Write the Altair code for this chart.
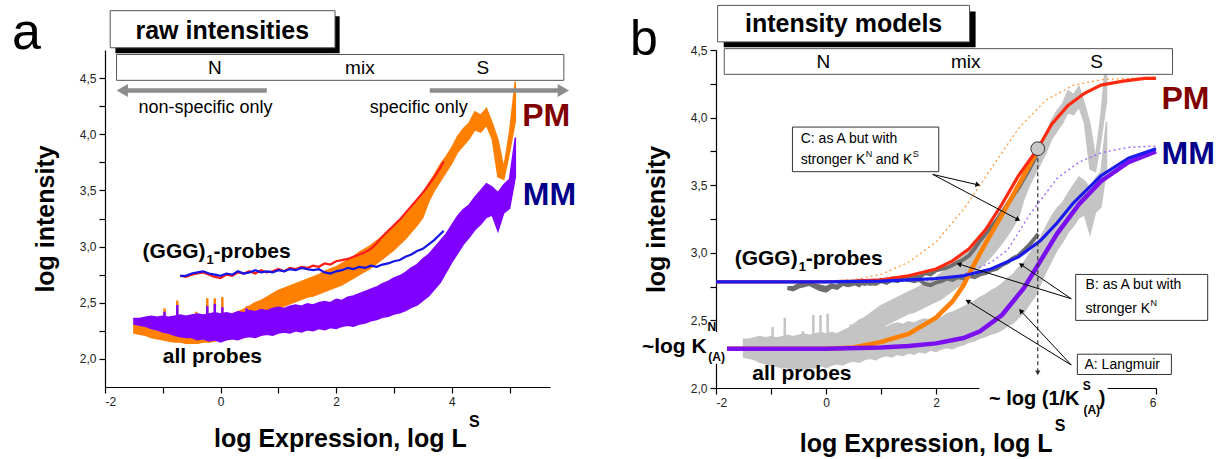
import math
import altair as alt
import pandas as pd

FONT = "Liberation Sans"

# ---------------- data ----------------
# all probes (panel a: PM orange / MM purple; panel b: light grey)
band_x = [-1.5, -1.4, -1.3, -1.2, -1.1, -1.0, -0.9, -0.8, -0.7, -0.6, -0.5, -0.4, -0.3, -0.2, -0.1,
          0.0, 0.1, 0.2, 0.3, 0.4, 0.5, 0.6, 0.7, 0.8, 0.9, 1.0, 1.1, 1.2, 1.3, 1.4, 1.5, 1.6, 1.7,
          1.8, 1.9, 2.0, 2.1, 2.2, 2.3, 2.4, 2.5, 2.6, 2.7, 2.8, 2.9, 3.0, 3.1, 3.2, 3.3, 3.4, 3.5,
          3.6, 3.7, 3.8, 3.9, 4.0, 4.1, 4.2, 4.3, 4.4, 4.5, 4.6, 4.7, 4.8, 4.9, 5.0, 5.1]
mm_lo = [2.31, 2.30, 2.29, 2.27, 2.26, 2.24, 2.23, 2.21, 2.20, 2.19, 2.19, 2.17, 2.18, 2.16, 2.17,
         2.15, 2.17, 2.18, 2.17, 2.19, 2.20, 2.19, 2.21, 2.22, 2.21, 2.23, 2.24, 2.23, 2.25, 2.24,
         2.26, 2.25, 2.27, 2.26, 2.28, 2.27, 2.29, 2.30, 2.29, 2.31, 2.32, 2.34, 2.35, 2.37, 2.38,
         2.40, 2.41, 2.43, 2.46, 2.48, 2.52, 2.56, 2.62, 2.68, 2.77, 2.86, 2.94, 3.02, 3.08, 3.15,
         3.20, 3.26, 3.28, 3.14, 3.30, 3.34, 3.62]
mm_hi = [2.36, 2.36, 2.37, 2.38, 2.37, 2.38, 2.37, 2.38, 2.39, 2.38, 2.39, 2.40, 2.39, 2.40, 2.41,
         2.40, 2.41, 2.40, 2.42, 2.41, 2.43, 2.42, 2.44, 2.43, 2.45, 2.46, 2.45, 2.47, 2.48, 2.47,
         2.49, 2.48, 2.50, 2.51, 2.50, 2.53, 2.52, 2.55, 2.56, 2.58, 2.60, 2.62, 2.64, 2.67, 2.69,
         2.72, 2.74, 2.77, 2.81, 2.84, 2.89, 2.93, 2.99, 3.05, 3.11, 3.19, 3.27, 3.33, 3.37, 3.44,
         3.50, 3.56, 3.53, 3.48, 3.55, 3.60, 3.97]
pm_lo = [2.23, 2.22, 2.21, 2.19, 2.18, 2.17, 2.16, 2.15, 2.15, 2.14, 2.14, 2.14, 2.15, 2.15, 2.16,
         2.18, 2.20, 2.22, 2.25, 2.27, 2.30, 2.33, 2.36, 2.39, 2.42, 2.45, 2.47, 2.49, 2.51, 2.53,
         2.55, 2.56, 2.58, 2.60, 2.62, 2.64, 2.66, 2.69, 2.72, 2.75, 2.78, 2.81, 2.85, 2.89, 2.93,
         2.97, 3.02, 3.07, 3.13, 3.19, 3.26, 3.40, 3.50, 3.58, 3.66, 3.74, 3.84, 3.90, 3.96, 4.04,
         4.02, 4.08, 3.96, 3.62, 3.60, 3.84, 4.12]
pm_hi = [2.30, 2.29, 2.29, 2.28, 2.28, 2.28, 2.27, 2.28, 2.28, 2.29, 2.30, 2.31, 2.32, 2.34, 2.35,
         2.37, 2.38, 2.40, 2.42, 2.44, 2.47, 2.50, 2.52, 2.55, 2.58, 2.61, 2.63, 2.65, 2.67, 2.69,
         2.71, 2.73, 2.75, 2.78, 2.80, 2.82, 2.85, 2.88, 2.91, 2.95, 2.98, 3.01, 3.05, 3.09, 3.13,
         3.18, 3.22, 3.28, 3.34, 3.41, 3.47, 3.56, 3.64, 3.73, 3.80, 3.88, 3.98, 4.05, 4.10, 4.20,
         4.17, 4.23, 4.10, 3.95, 3.70, 4.02, 4.47]
spike_x = [-1.25, -0.97, -0.75, -0.42, -0.23, -0.10, 0.03, 0.45]
spike_pm = [2.38, 2.45, 2.52, 2.42, 2.54, 2.54, 2.55, 2.47]
spike_mm = [2.37, 2.42, 2.48, 2.40, 2.47, 2.49, 2.46, 2.45]

# (GGG)1-probes: PM (red) and MM (blue)
ggg_x = [-0.7, -0.6, -0.5, -0.4, -0.3, -0.2, -0.1, 0.0, 0.1, 0.2, 0.3, 0.4, 0.5, 0.6, 0.7, 0.8,
         0.9, 1.0, 1.1, 1.2, 1.3, 1.4, 1.5, 1.6, 1.7, 1.8, 1.9, 2.0, 2.1, 2.2, 2.3, 2.4, 2.5, 2.6,
         2.7, 2.8, 2.9, 3.0, 3.1, 3.2, 3.3, 3.4, 3.5, 3.6, 3.7, 3.8, 3.86]
ggg_pm = [2.74, 2.73, 2.75, 2.76, 2.77, 2.75, 2.73, 2.72, 2.75, 2.74, 2.77, 2.76, 2.78, 2.76,
          2.79, 2.77, 2.78, 2.80, 2.78, 2.81, 2.80, 2.82, 2.81, 2.83, 2.82, 2.85, 2.84, 2.87,
          2.88, 2.89, 2.91, 2.93, 2.95, 2.98, 3.03, 3.09, 3.14, 3.19, 3.24, 3.30, 3.36, 3.42,
          3.48, 3.55, 3.62, 3.70, 3.76]
ggg_mm = [2.74, 2.74, 2.76, 2.77, 2.78, 2.76, 2.75, 2.74, 2.76, 2.75, 2.78, 2.76, 2.77, 2.79,
          2.77, 2.78, 2.77, 2.79, 2.78, 2.80, 2.79, 2.81, 2.80, 2.79, 2.80, 2.77, 2.76, 2.78,
          2.79, 2.81, 2.80, 2.82, 2.81, 2.83, 2.82, 2.84, 2.85, 2.87, 2.88, 2.91, 2.93, 2.96,
          2.98, 3.02, 3.06, 3.11, 3.14]

# panel b model curves
b_red_x = [-2.0, -1.0, 0.0, 0.5, 1.0, 1.5, 2.0, 2.3, 2.6, 2.9, 3.2, 3.5, 3.85, 4.1, 4.4, 4.7, 5.0, 5.4, 5.8, 6.0]
b_red_y = [2.785, 2.785, 2.786, 2.79, 2.80, 2.83, 2.88, 2.94, 3.03, 3.17, 3.36, 3.57, 3.77, 3.95, 4.09, 4.18, 4.24, 4.27, 4.29, 4.29]
b_orange_x = [-1.8, -1.0, 0.0, 0.5, 1.0, 1.5, 2.0, 2.3, 2.5, 2.7, 2.9, 3.2, 3.5, 3.85]
b_orange_y = [2.29, 2.29, 2.29, 2.30, 2.34, 2.40, 2.52, 2.64, 2.76, 2.92, 3.07, 3.28, 3.50, 3.76]
b_purple_x = [-1.8, -1.0, 0.0, 1.0, 1.5, 2.0, 2.5, 2.8, 3.2, 3.6, 3.9, 4.2, 4.6, 5.0, 5.5, 6.0]
b_purple_y = [2.29, 2.29, 2.29, 2.30, 2.31, 2.33, 2.37, 2.42, 2.54, 2.74, 2.94, 3.14, 3.36, 3.53, 3.67, 3.75]
b_blue_x = [-2.0, -1.0, 0.0, 1.0, 1.5, 2.0, 2.5, 3.0, 3.5, 3.9, 4.2, 4.5, 5.0, 5.5, 6.0]
b_blue_y = [2.785, 2.785, 2.785, 2.79, 2.80, 2.81, 2.83, 2.88, 2.97, 3.09, 3.22, 3.37, 3.57, 3.70, 3.77]
b_cpm_x = [-2.0, -1.0, 0.0, 0.5, 1.0, 1.5, 2.0, 2.5, 3.0, 3.5, 4.0, 4.5, 5.0, 5.5, 6.0]
b_cpm_y = [2.785, 2.785, 2.79, 2.80, 2.84, 2.93, 3.08, 3.32, 3.62, 3.92, 4.13, 4.24, 4.28, 4.29, 4.30]
b_cmm_x = [1.0, 1.5, 2.0, 2.5, 3.0, 3.3, 3.7, 4.2, 4.6, 5.0, 5.5, 6.0]
b_cmm_y = [2.785, 2.79, 2.80, 2.84, 2.93, 3.02, 3.28, 3.55, 3.67, 3.74, 3.78, 3.79]

x_ticks = [-2, -1, 0, 1, 2, 3, 4, 5]
x_ticks_b = [-2, -1, 0, 1, 2, 3, 4, 5, 6]
y_ticks = [2.0, 2.25, 2.5, 2.75, 3.0, 3.25, 3.5, 3.75, 4.0, 4.25, 4.5]

# ---------------- scales / axes ----------------
XA = alt.Scale(domain=[-2, 5.7], nice=False, zero=False)
YA = alt.Scale(domain=[1.75, 4.75], nice=False, zero=False)
XB = alt.Scale(domain=[-2, 6], nice=False, zero=False)
YB = alt.Scale(domain=[2.0, 4.5], nice=False, zero=False)
SXA, SYA = 445 / 7.7, 337 / 3.0
SXB, SYB = 440 / 8.0, 338 / 2.5

def xaxis(vals, expr):
    return alt.Axis(values=vals, title=None, grid=False, tickSize=6, tickColor="black",
                    domainColor="black", labelFont=FONT, labelFontSize=12, labelColor="#222",
                    labelPadding=3, labelExpr=expr)

def yaxis(pad):
    return alt.Axis(values=y_ticks, grid=False, tickSize=6, tickColor="black",
                    domainColor="black", labelFont=FONT, labelFontSize=12, labelColor="#222",
                    labelPadding=3,
                    labelExpr="(datum.value * 2) % 1 == 0 ? replace(format(datum.value, '.1f'), '.', ',') : ''",
                    title="log intensity", titleFont=FONT, titleFontSize=25, titleFontWeight="bold",
                    titleColor="black", titlePadding=pad)

AXA = xaxis(x_ticks, "datum.value % 2 == 0 ? '' + datum.value : ''")
AXB = xaxis(x_ticks_b, "datum.value % 2 == 0 && datum.value != 4 ? '' + datum.value : ''")
AYA, AYB = yaxis(21), yaxis(21)

class P:
    def __init__(self, xs, ys, ax, ay, sx, sy):
        self.xs, self.ys, self.ax, self.ay, self.sx, self.sy = xs, ys, ax, ay, sx, sy

    def X(self, f="x"):
        return alt.X(f + ":Q", scale=self.xs, axis=self.ax)

    def Y(self, f="y"):
        return alt.Y(f + ":Q", scale=self.ys, axis=self.ay)

    def line(self, xs, ys, color, width, dash=None):
        kw = dict(color=color, strokeWidth=width, clip=False)
        if dash:
            kw["strokeDash"] = dash
        return alt.Chart(pd.DataFrame({"x": xs, "y": ys})).mark_line(**kw).encode(x=self.X(), y=self.Y())

    def band(self, xs, lo, hi, color):
        return alt.Chart(pd.DataFrame({"x": xs, "y": lo, "y2": hi})).mark_area(
            color=color, stroke=color, strokeWidth=1.5).encode(x=self.X(), y=self.Y(), y2="y2:Q")

    def spikes(self, xs, lo, hi, color):
        return alt.Chart(pd.DataFrame({"x": xs, "y": [lo] * len(xs), "y2": hi})).mark_rule(
            color=color, strokeWidth=2.5).encode(x=self.X(), y=self.Y(), y2="y2:Q")

    def rect(self, x1, x2, y1, y2, fill, stroke=None, sw=1):
        kw = dict(fill=fill, clip=False)
        if stroke:
            kw.update(stroke=stroke, strokeWidth=sw)
        else:
            kw.update(strokeWidth=0)
        return alt.Chart(pd.DataFrame({"x": [x1], "x2": [x2], "y": [y1], "y2": [y2]})).mark_rect(**kw).encode(
            x=self.X(), x2="x2:Q", y=self.Y(), y2="y2:Q")

    def text(self, x, y, t, size=14, bold=False, color="black", align="left", baseline="middle", dx=0, dy=0):
        return alt.Chart(pd.DataFrame({"x": [x], "y": [y], "t": [t]})).mark_text(
            font=FONT, fontSize=size, fontWeight="bold" if bold else "normal", color=color,
            align=align, baseline=baseline, dx=dx, dy=dy).encode(x=self.X(), y=self.Y(), text="t:N")

    def arrow(self, x1, y1, x2, y2, color="black", width=1, head=30, dash=None):
        dxp = (x2 - x1) * self.sx
        dyp = -(y2 - y1) * self.sy
        L = math.hypot(dxp, dyp)
        ux, uy = dxp / L, dyp / L
        back = math.sqrt(head) * 0.45
        hx = x2 - back * ux / self.sx
        hy = y2 + back * uy / self.sy
        ang = math.degrees(math.atan2(dxp, -dyp)) % 360
        kw = dict(color=color, strokeWidth=width)
        if dash:
            kw["strokeDash"] = dash
        shaft = alt.Chart(pd.DataFrame({"x": [x1], "y": [y1], "x2": [hx], "y2": [hy]})).mark_rule(**kw).encode(
            x=self.X(), y=self.Y(), x2="x2:Q", y2="y2:Q")
        tip = alt.Chart(pd.DataFrame({"x": [hx], "y": [hy], "a": [ang]})).mark_point(
            shape="triangle", filled=True, size=head, color=color, opacity=1).encode(
            x=self.X(), y=self.Y(), angle=alt.Angle("a:Q", scale=None))
        return [shaft, tip]


A = P(XA, YA, AXA, AYA, SXA, SYA)
B = P(XB, YB, AXB, AYB, SXB, SYB)

ORANGE, PURPLE, RED, BLUE = "#ff8000", "#7f00ff", "#ff1a1a", "#1414e6"
LGREY, DGREY = "#c4c4c4", "#6e6e6e"
PMC, MMC = "#800000", "#00008b"

# ---------------- panel a ----------------
la = []
la.append(A.band(band_x, pm_lo, pm_hi, ORANGE))
la.append(A.spikes(spike_x, 2.3, spike_pm, ORANGE))
la.append(A.band(band_x, mm_lo, mm_hi, PURPLE))
la.append(A.spikes(spike_x, 2.3, spike_mm, PURPLE))
la.append(A.line(ggg_x, ggg_pm, RED, 2.2))
la.append(A.line(ggg_x, ggg_mm, BLUE, 2.2))
# header boxes
la.append(A.rect(-1.82, 2.06, 5.05, 4.72, "black"))
la.append(A.rect(-1.91, 1.98, 5.10, 4.77, "white", "#555", 1))
la.append(A.text(0.03, 4.92, "raw intensities", 25, True, align="center"))
la.append(A.rect(-1.80, 5.94, 4.71, 4.48, "white", "#555", 1))
la.append(A.text(-0.10, 4.59, "N", 19, align="center"))
la.append(A.text(2.41, 4.59, "mix", 19, align="center"))
la.append(A.text(4.54, 4.59, "S", 19, align="center"))
la += A.arrow(0.80, 4.39, -1.77, 4.39, "#8c8c8c", 4.5, 170)
la += A.arrow(3.62, 4.39, 6.00, 4.39, "#8c8c8c", 4.5, 170)
la.append(A.text(-1.42, 4.23, "non-specific only", 18))
la.append(A.text(2.58, 4.23, "specific only", 18))
# labels
la.append(A.text(5.22, 4.16, "PM", 32, True, PMC))
la.append(A.text(5.23, 3.46, "MM", 32, True, MMC))
la.append(A.text(-1.35, 2.955, "(GGG)", 21, True))
la.append(A.text(-1.35, 2.955, "1", 13, True, dx=64, dy=8))
la.append(A.text(-1.35, 2.955, "-probes", 21, True, dx=71))
la.append(A.text(-1.0, 2.02, "all probes", 21, True))
la.append(A.text(4.26, 1.286, "log Expression, log L", 25, True, align="right"))
la.append(A.text(4.30, 1.44, "S", 16, True))
la.append(alt.Chart(pd.DataFrame({"t": ["a"]})).mark_text(
    font=FONT, fontSize=52, align="left", baseline="alphabetic", color="black").encode(
    x=alt.value(-93), y=alt.value(-1), text="t:N"))
chart_a = alt.layer(*la).properties(width=445, height=337)

# ---------------- panel b ----------------
lb = []
lb.append(B.band(band_x, pm_lo, pm_hi, LGREY))
lb.append(B.spikes(spike_x, 2.3, spike_pm, LGREY))
lb.append(B.band(band_x, mm_lo, mm_hi, LGREY))
lb.append(B.line(ggg_x, ggg_pm, DGREY, 4))
lb.append(B.line(ggg_x, ggg_mm, DGREY, 4))
lb.append(B.line(b_cpm_x, b_cpm_y, "#ff9a3c", 1.3, [2, 3]))
lb.append(B.line(b_cmm_x, b_cmm_y, "#9a5cff", 1.3, [2, 3]))
lb.append(B.line(b_orange_x, b_orange_y, ORANGE, 4.5))
lb.append(B.line(b_purple_x, b_purple_y, "#7a10f0", 4.5))
lb.append(B.line(b_red_x, b_red_y, "#ff2a10", 3.2))
lb.append(B.line(b_blue_x, b_blue_y, "#1a1aee", 3.2))
# dashed drop line and circle
lb += B.arrow(3.85, 3.70, 3.85, 2.10, "#333", 1.2, 28, [4, 3])
lb.append(alt.Chart(pd.DataFrame({"x": [3.85], "y": [3.77]})).mark_point(
    shape="circle", filled=True, size=190, fill="#c8c8c8", stroke="#333", strokeWidth=1,
    opacity=1).encode(x=B.X(), y=B.Y()))
# header boxes
lb.append(B.rect(-1.86, 2.72, 4.785, 4.52, "black"))
lb.append(B.rect(-1.97, 2.61, 4.83, 4.56, "white", "#555", 1))
lb.append(B.text(0.32, 4.695, "intensity models", 25, True, align="center"))
lb.append(B.rect(-1.85, 6.30, 4.51, 4.32, "white", "#555", 1))
lb.append(B.text(-0.05, 4.41, "N", 19, align="center"))
lb.append(B.text(2.54, 4.41, "mix", 19, align="center"))
lb.append(B.text(4.92, 4.41, "S", 19, align="center"))
# callouts
lb.append(B.rect(-0.61, 2.05, 3.93, 3.60, "white", "#333", 1))
lb.append(B.text(-0.46, 3.84, "C: as A but with", 14))
lb.append(B.text(-0.46, 3.685, "stronger K", 14))
lb.append(B.text(-0.46, 3.685, "N", 9, dx=65, dy=-6))
lb.append(B.text(-0.46, 3.685, "and K", 14, dx=75))
lb.append(B.text(-0.46, 3.685, "S", 9, dx=112, dy=-6))
lb += B.arrow(1.94, 3.58, 2.79, 3.50)
lb += B.arrow(1.94, 3.58, 3.52, 3.24)
lb.append(B.rect(4.54, 6.94, 2.84, 2.50, "white", "#333", 1))
lb.append(B.text(4.72, 2.763, "B: as A but with", 14))
lb.append(B.text(4.72, 2.585, "stronger K", 14))
lb.append(B.text(4.72, 2.585, "N", 9, dx=65, dy=-6))
lb += B.arrow(4.46, 2.66, 2.39, 2.92)
lb += B.arrow(4.46, 2.66, 3.52, 2.92)
lb.append(B.rect(4.57, 6.28, 2.25, 2.10, "white", "#333", 1))
lb.append(B.text(4.70, 2.17, "A: Langmuir", 14))
lb += B.arrow(4.46, 2.17, 2.55, 2.65)
lb += B.arrow(4.46, 2.17, 3.52, 2.58)
# labels
lb.append(B.text(6.10, 4.14, "PM", 32, True, PMC))
lb.append(B.text(6.10, 3.73, "MM", 32, True, MMC))
lb.append(B.text(-1.66, 2.955, "(GGG)", 21, True))
lb.append(B.text(-1.66, 2.955, "1", 13, True, dx=64, dy=8))
lb.append(B.text(-1.66, 2.955, "-probes", 21, True, dx=71))
lb.append(B.text(-1.34, 2.10, "all probes", 21, True))
lb.append(B.rect(-3.30, -1.81, 2.415, 2.18, "white"))
lb.append(B.text(-2.17, 2.30, "~log K", 21, True, align="right"))
lb.append(B.text(-2.155, 2.45, "N", 12, True))
lb.append(B.text(-2.14, 2.23, "(A)", 12, True))
lb.append(B.rect(2.79, 5.12, 2.044, 1.82, "white"))
lb.append(B.text(4.61, 1.918, "~ log (1/K", 20, True, align="right"))
lb.append(B.text(4.67, 2.015, "S", 12, True))
lb.append(B.text(4.68, 1.84, "(A)", 12, True))
lb.append(B.text(4.96, 1.918, ")", 20, True))
lb.append(B.text(4.12, 1.585, "log Expression, log L", 25, True, align="right"))
lb.append(B.text(4.16, 1.72, "S", 16, True))
lb.append(alt.Chart(pd.DataFrame({"t": ["b"]})).mark_text(
    font=FONT, fontSize=50, align="left", baseline="alphabetic", color="black").encode(
    x=alt.value(-86), y=alt.value(5), text="t:N"))
chart_b = alt.layer(*lb).properties(width=440, height=338)

chart = alt.hconcat(chart_a, chart_b, spacing=166, bounds="flush").properties(
    padding={"left": 12, "top": 4, "right": 0, "bottom": 0}
).configure_view(stroke=None).configure_axis(domainWidth=1.2, tickWidth=1.2)

chart.save("out.html", embed_options={"renderer": "svg", "actions": False})
